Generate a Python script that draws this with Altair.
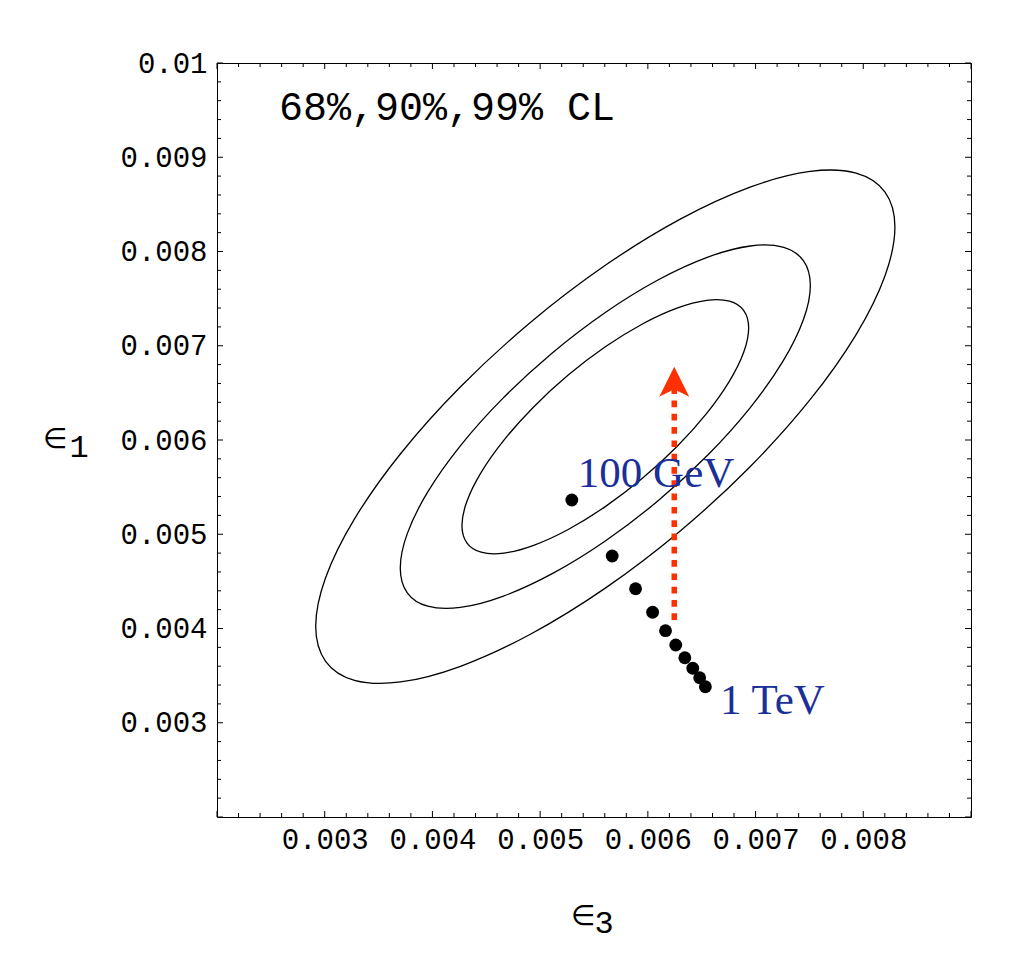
import altair as alt
import pandas as pd

# ---------------- data ----------------
# 99% CL contour (outer)
outer_x = [0.0082936, 0.0082019, 0.0079333, 0.0075061, 0.0069493, 0.0063008, 0.0056050, 0.0049092,
           0.0042607, 0.0037039, 0.0032767, 0.0030081, 0.0029164, 0.0030081, 0.0032767, 0.0037039,
           0.0042607, 0.0049092, 0.0056050, 0.0063008, 0.0069493, 0.0075061, 0.0079333, 0.0082019]
outer_y = [0.0082588, 0.0077434, 0.0071188, 0.0064276, 0.0057169, 0.0050350, 0.0044285, 0.0039388,
           0.0035991, 0.0034326, 0.0034507, 0.0036522, 0.0040232, 0.0045386, 0.0051632, 0.0058544,
           0.0065651, 0.0072470, 0.0078535, 0.0083432, 0.0086829, 0.0088494, 0.0088313, 0.0086298]
# 90% CL contour (middle)
middle_x = [0.0075085, 0.0074436, 0.0072534, 0.0069510, 0.0065568, 0.0060976, 0.0056050, 0.0051124,
            0.0046532, 0.0042590, 0.0039566, 0.0037664, 0.0037015, 0.0037664, 0.0039566, 0.0042590,
            0.0046532, 0.0051124, 0.0056050, 0.0060976, 0.0065568, 0.0069510, 0.0072534, 0.0074436]
middle_y = [0.0076404, 0.0072755, 0.0068333, 0.0063439, 0.0058407, 0.0053580, 0.0049285, 0.0045818,
            0.0043413, 0.0042235, 0.0042363, 0.0043789, 0.0046416, 0.0050065, 0.0054487, 0.0059381,
            0.0064413, 0.0069240, 0.0073535, 0.0077002, 0.0079407, 0.0080585, 0.0080457, 0.0079031]
# 68% CL contour (inner)
inner_x = [0.0069359, 0.0068905, 0.0067575, 0.0065460, 0.0062704, 0.0059494, 0.0056050, 0.0052606,
           0.0049396, 0.0046640, 0.0044525, 0.0043195, 0.0042741, 0.0043195, 0.0044525, 0.0046640,
           0.0049396, 0.0052606, 0.0056050, 0.0059494, 0.0062704, 0.0065460, 0.0067575, 0.0068905]
inner_y = [0.0071893, 0.0069342, 0.0066250, 0.0062829, 0.0059311, 0.0055935, 0.0052933, 0.0050509,
           0.0048828, 0.0048003, 0.0048093, 0.0049090, 0.0050927, 0.0053478, 0.0056570, 0.0059991,
           0.0063509, 0.0066885, 0.0069887, 0.0072311, 0.0073992, 0.0074817, 0.0074727, 0.0073730]

# model points from 100 GeV to 1 TeV
dots_x = [0.005294, 0.005669, 0.005886, 0.006044, 0.006164, 0.006259, 0.006343, 0.006417,
          0.006481, 0.006534]
dots_y = [0.005363, 0.004769, 0.004422, 0.004172, 0.003977, 0.003825, 0.003690, 0.003578,
          0.003478, 0.003382]

# red dotted arrow
arrow_x = [0.006245, 0.006245]
arrow_y = [0.004090, 0.006541]
head_x = [0.006245]
head_y = [0.006619]

# annotations
label_text = ["100 GeV", "1 TeV"]
label_x = [0.005350, 0.006670]
label_y = [0.005504, 0.003093]

cl_text = ["68%,90%,99% CL"]
cl_x = [0.002576]
cl_y = [0.009395]

# axes
x_domain = [0.002, 0.009]
y_domain = [0.002, 0.01]
x_tick_labels = [0.003, 0.004, 0.005, 0.006, 0.007, 0.008]
y_tick_labels = [0.003, 0.004, 0.005, 0.006, 0.007, 0.008, 0.009, 0.01]
x_major = [0.002, 0.003, 0.004, 0.005, 0.006, 0.007, 0.008, 0.009]
y_major = [0.002, 0.003, 0.004, 0.005, 0.006, 0.007, 0.008, 0.009, 0.01]
x_minor = [round(0.002 + 0.0002 * i, 4) for i in range(1, 35) if i % 5]
y_minor = [round(0.002 + 0.0002 * i, 4) for i in range(1, 40) if i % 5]

# ---------------- styling ----------------
W = H = 754
MONO = "Liberation Mono"
SERIF = "Liberation Serif"
RED = "#ff3000"
BLUE = "#1b2f99"

xs = alt.Scale(domain=x_domain, nice=False, zero=False)
ys = alt.Scale(domain=y_domain, nice=False, zero=False)
xaxis = alt.Axis(values=x_tick_labels, format="~g", ticks=False, domain=False, grid=False,
                 labelFont=MONO, labelFontSize=29, labelColor="black", labelPadding=8,
                 labelFlush=False, labelOverlap=False, title=None)
yaxis = alt.Axis(values=y_tick_labels, format="~g", ticks=False, domain=False, grid=False,
                 labelFont=MONO, labelFontSize=29, labelColor="black", labelPadding=10,
                 labelFlush=False, labelOverlap=False, title=None)


def X():
    return alt.X("x:Q", scale=xs, axis=xaxis)


def Y():
    return alt.Y("y:Q", scale=ys, axis=yaxis)


rows = []
for name, xx, yy in [("99", outer_x, outer_y), ("90", middle_x, middle_y), ("68", inner_x, inner_y)]:
    for i, (a, b) in enumerate(zip(xx, yy)):
        rows.append({"x": a, "y": b, "ring": name, "order": i})
ell_df = pd.DataFrame(rows)

ellipses = alt.Chart(ell_df).mark_line(
    color="black", strokeWidth=1.3, interpolate="cardinal-closed"
).encode(x=X(), y=Y(), detail="ring:N", order="order:Q")

arrow_df = pd.DataFrame({"x": arrow_x, "y": arrow_y, "order": [0, 1]})
arrow_line = alt.Chart(arrow_df).mark_line(
    color=RED, strokeWidth=5.5, strokeDash=[6.7, 6.6], strokeCap="butt"
).encode(x=X(), y=Y(), order="order:Q")

head = alt.Chart(pd.DataFrame({"x": head_x, "y": head_y})).mark_point(
    shape="M0,-1L1,1L0,0.5L-1,1Z", filled=True, size=900, color=RED, opacity=1, strokeWidth=0
).encode(x=X(), y=Y())

dots = alt.Chart(pd.DataFrame({"x": dots_x, "y": dots_y})).mark_circle(
    size=165, color="black", opacity=1
).encode(x=X(), y=Y())

labels = alt.Chart(pd.DataFrame({"x": label_x, "y": label_y, "t": label_text})).mark_text(
    font=SERIF, fontSize=43, color=BLUE, align="left", baseline="alphabetic"
).encode(x=X(), y=Y(), text="t:N")

cl = alt.Chart(pd.DataFrame({"x": cl_x, "y": cl_y, "t": cl_text})).mark_text(
    font=MONO, fontSize=40, color="black", align="left", baseline="alphabetic"
).encode(x=X(), y=Y(), text="t:N")


def xticks(vals, length, side):
    df = pd.DataFrame({"x": vals})
    y0, y1 = (H, H - length) if side == "bottom" else (0, length)
    return alt.Chart(df).mark_rule(color="black", strokeWidth=1).encode(
        x=X(), y=alt.value(y0), y2=alt.value(y1))


def yticks(vals, length, side):
    df = pd.DataFrame({"y": vals})
    x0, x1 = (0, length) if side == "left" else (W, W - length)
    return alt.Chart(df).mark_rule(color="black", strokeWidth=1).encode(
        y=Y(), x=alt.value(x0), x2=alt.value(x1))


ticks = [
    xticks(x_major, 6, "bottom"), xticks(x_minor, 4, "bottom"),
    xticks(x_major, 6, "top"), xticks(x_minor, 4, "top"),
    yticks(y_major, 6, "left"), yticks(y_minor, 4, "left"),
    yticks(y_major, 6, "right"), yticks(y_minor, 4, "right"),
]


def free_text(txt, px, py, font, size, align="left"):
    return alt.Chart(pd.DataFrame({"t": [txt]})).mark_text(
        font=font, fontSize=size, color="black", align=align, baseline="alphabetic"
    ).encode(text="t:N", x=alt.value(px), y=alt.value(py))


titles = [
    free_text("∈", -174, 385, "DejaVu Sans", 28),
    free_text("1", -138, 394, MONO, 32, "center"),
    free_text("∈", 354, 862, "DejaVu Sans", 28),
    free_text("3", 387, 870, MONO, 32, "center"),
]

chart = alt.layer(
    ellipses, arrow_line, head, dots, labels, cl, *ticks, *titles
).properties(
    width=W, height=H,
    autosize=alt.AutoSizeParams(type="none"),
    padding={"left": 209, "top": 55, "right": 50, "bottom": 138},
    background="white",
).configure_view(stroke="black", strokeWidth=1)

chart.save("out.html", embed_options={"renderer": "svg", "actions": False})
